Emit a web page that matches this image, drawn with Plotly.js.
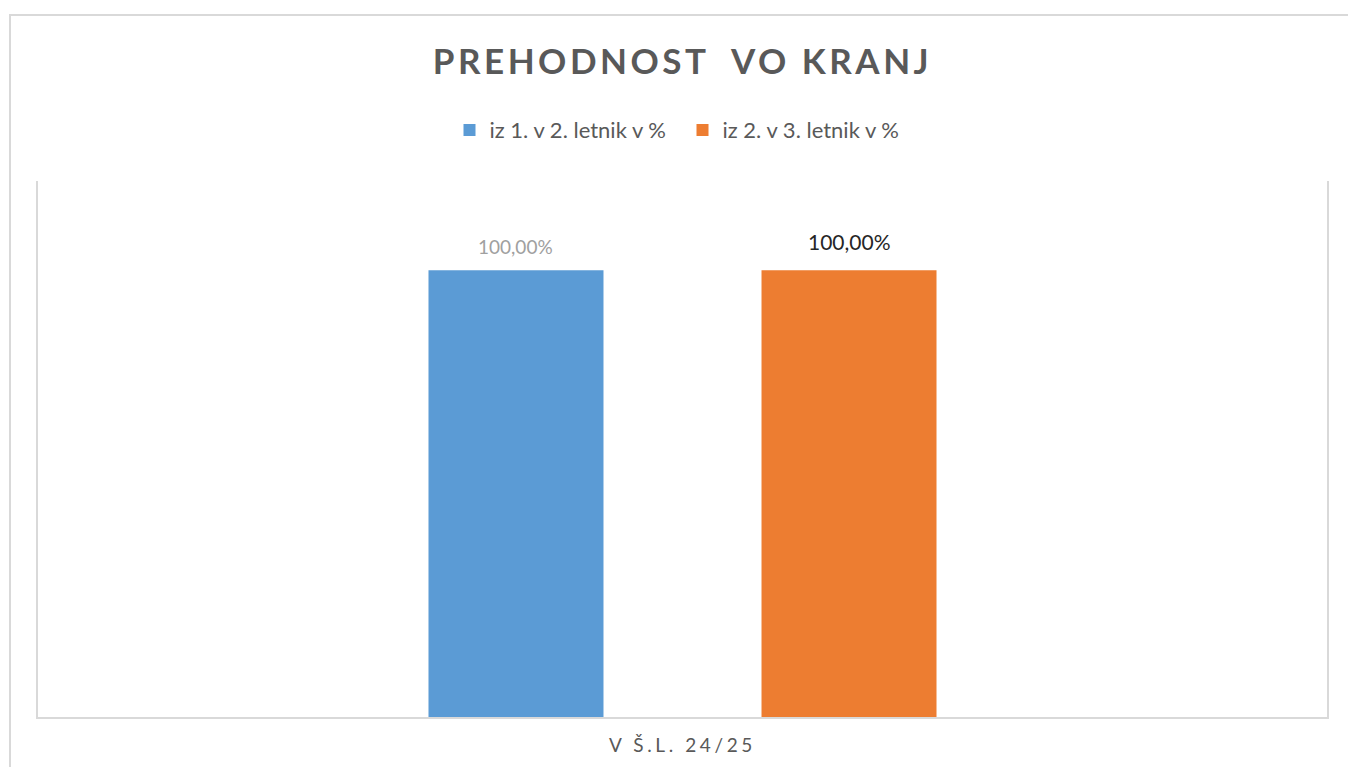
<!DOCTYPE html>
<html>
<head>
<meta charset="utf-8">
<script src="https://cdn.plot.ly/plotly-3.0.1.min.js"></script>
<style>
  html, body { margin: 0; padding: 0; background: #ffffff; overflow: hidden; }
  #wrap { position: relative; width: 1348px; height: 767px; }
  #frame { position: absolute; left: 9px; top: 14px; width: 1400px; height: 800px;
           border: 2px solid #d9d9d9; box-sizing: border-box; pointer-events: none; z-index: 2; }
  #chart { position: absolute; left: 0; top: 0; width: 1348px; height: 767px; }
  .gtitle { letter-spacing: 3.5px; }
  .xtick text { letter-spacing: 3.6px; }
</style>
</head>
<body>
<div id="wrap">
  <div id="chart"></div>
  <div id="frame"></div>
</div>
<script>
const categories = ["V Š.L. 24/25"];
const seriesNames = ["iz 1. v 2. letnik v %", "iz 2. v 3. letnik v %"];
const series1 = [100.00];
const series2 = [100.00];
const chartTitle = "PREHODNOST  VO KRANJ";

const W = 1348, H = 767;
const margin = { l: 38, r: 21, t: 181, b: 50, pad: 0 };
const bargap = 0.4833, bargroupgap = 0.4745;
const plotW = W - margin.l - margin.r;
const groupW = (1 - bargap) * plotW;

const labelStyles = [
  { size: 19, color: "#a0a0a0", yshift: 10 },
  { size: 21, color: "#262626", yshift: 14 }
];
const seriesList = [series1, series2];
const colors = ["#5B9BD5", "#ED7D31"];

const traces = seriesList.map((vals, s) => ({
  type: "bar",
  name: seriesNames[s],
  x: categories,
  y: vals,
  marker: { color: colors[s] },
  hoverinfo: "skip"
}));

const fmt = v => v.toFixed(2).replace(".", ",") + "%";
const annotations = [];
seriesList.forEach((vals, s) => {
  vals.forEach((v, i) => {
    annotations.push({
      x: categories[i], y: v, xref: "x", yref: "y",
      text: fmt(v), showarrow: false,
      xanchor: "center", yanchor: "bottom",
      xshift: (s === 0 ? -1 : 1) * groupW / 4,
      yshift: labelStyles[s].yshift,
      font: { family: "Lato", size: labelStyles[s].size, color: labelStyles[s].color }
    });
  });
});

const layout = {
  width: W,
  height: H,
  margin: margin,
  paper_bgcolor: "rgba(0,0,0,0)",
  plot_bgcolor: "#ffffff",
  separators: ",.",
  font: { family: "Lato", color: "#595959" },
  title: {
    text: chartTitle,
    font: { family: "Lato", size: 35, weight: 700, color: "#595959" },
    x: 0.5, xanchor: "center",
    xref: "paper",
    y: 1 - 62 / H, yref: "container", yanchor: "middle"
  },
  barmode: "group",
  bargap: bargap,
  bargroupgap: bargroupgap,
  showlegend: true,
  legend: {
    orientation: "h",
    x: 0.5, xanchor: "center",
    y: 1.095, yanchor: "middle",
    font: { family: "Lato", size: 22, color: "#595959" },
    itemwidth: 30,
    entrywidth: 188,
    entrywidthmode: "pixels",
    traceorder: "normal"
  },
  annotations: annotations,
  xaxis: {
    type: "category",
    showline: true,
    linecolor: "#d9d9d9",
    linewidth: 2,
    ticks: "",
    ticklabelstandoff: 10,
    showgrid: false,
    zeroline: false,
    tickfont: { family: "Lato", size: 19, color: "#595959" },
    fixedrange: true
  },
  yaxis: {
    range: [0, 120],
    showline: true,
    mirror: true,
    linecolor: "#d9d9d9",
    linewidth: 2,
    showgrid: false,
    zeroline: false,
    showticklabels: false,
    ticks: "",
    fixedrange: true
  }
};

Plotly.newPlot("chart", traces, layout, { displayModeBar: false, staticPlot: true });
</script>
</body>
</html>
